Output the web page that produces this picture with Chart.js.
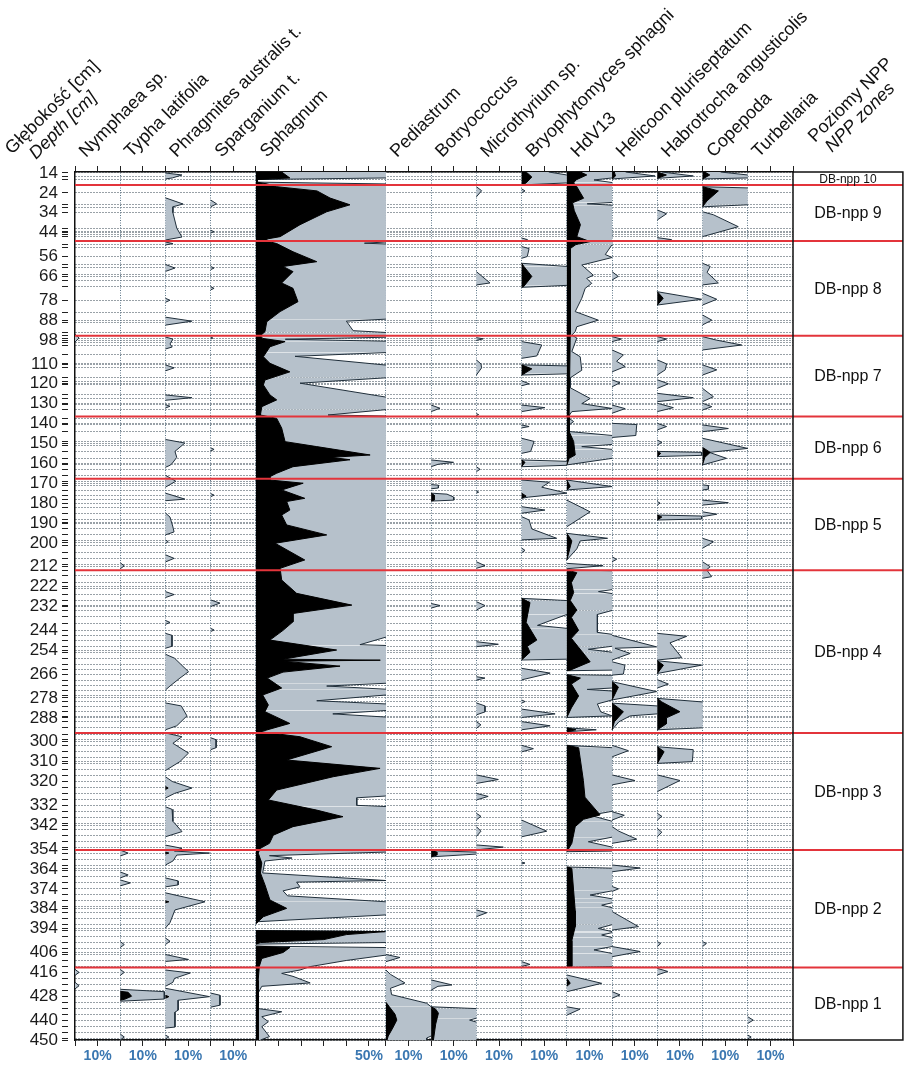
<!DOCTYPE html>
<html>
<head>
  <meta charset="utf-8">
  <title>NPP diagram</title>
  <script src="https://cdn.jsdelivr.net/npm/chart.js"></script>
  <style>
    html, body { margin: 0; padding: 0; background: #fff; }
    .wrap { position: relative; width: 904px; height: 1068px; }
  </style>
</head>
<body>
<div class="wrap"><canvas id="npp"></canvas></div>
<script>
  // --- data: [depth cm, value %] ---
  const TAXA = ['Nymphaea sp.', 'Typha latifolia', 'Phragmites australis t.', 'Sparganium t.', 'Sphagnum',
    'Pediastrum', 'Botryococcus', 'Microthyrium sp.', 'Bryophytomyces sphagni', 'HdV13',
    'Helicoon pluriseptatum', 'Habrotrocha angusticolis', 'Copepoda', 'Turbellaria'];
  const COL_WIDTHS = [20, 20, 20, 20, 57.5, 20, 20, 20, 20, 20, 20, 20, 20, 20];

  const DEPTH_LABELS = [14, 24, 34, 44, 56, 66, 78, 88, 98, 110, 120, 130, 140, 150, 160, 170, 180, 190, 200, 212,
    222, 232, 244, 254, 266, 278, 288, 300, 310, 320, 332, 342, 354, 364, 374, 384, 394, 406, 416, 428, 440, 450];
  const SAMPLE_DEPTHS = [16, 17.5, 30, 31.5, 34, 42, 43.5, 45, 46, 50, 51.5, 56, 60, 61.5, 65, 68, 71, 78, 84, 89,
    94, 95.5, 97, 99, 101, 105.5, 110.5, 112, 117, 119, 120.5, 125.5, 127.5, 130.5, 133, 137.5, 140.5, 144, 149,
    151, 154, 157.5, 160.5, 163, 166, 169, 171, 173.5, 176, 178, 180, 182, 185, 188, 190.5, 193, 196, 199, 201.5,
    205, 208, 211, 214, 216.5, 220, 223, 226, 229, 231.5, 234, 237, 240.5, 244, 246.5, 249, 252, 255, 258, 261,
    263.5, 266, 269, 271.5, 274, 277, 280, 282.5, 285, 287.5, 290, 293, 296.5, 299, 302, 305, 308, 311, 314, 317,
    320, 323, 326, 329, 332, 335, 338, 341, 344, 347, 350, 353, 356, 359, 362, 365, 368, 371, 374, 377, 380, 383,
    386, 389, 392, 395, 398, 401, 404, 407, 410, 413, 416, 419, 422, 425, 428, 431, 434, 437, 440, 443, 446, 449];

  const ZONE_BOUNDS = [20, 48.2, 95.8, 136.4, 167.8, 213.8, 295.6, 354.5, 413.5];
  const ZONE_NAMES = ['DB-npp 10', 'DB-npp 9', 'DB-npp 8', 'DB-npp 7', 'DB-npp 6', 'DB-npp 5',
    'DB-npp 4', 'DB-npp 3', 'DB-npp 2', 'DB-npp 1'];

  const nymphaeaGrey = [[95,0],[97,1.8],[99,0],[414.5,0],[416,1.8],[417.5,0],[421,0],[422.7,1.8],[424.3,0]];

  const typhaGrey = [[210,0],[211.6,1.8],[213,0],[354.5,0],[356,3.5],[357.5,0],[365.5,0],[367,3.5],[368.5,0],
    [369.5,0],[371,4.5],[372.5,0],[400.5,0],[402,1.8],[403.5,0],[414.5,0],[416,1.8],[417.5,0],[424.5,0],
    [425.7,19.5],[429.4,19.5],[430.5,0],[447,0],[448.5,1.8],[450,0]];
  const typhaBlack = [[425.5,0],[426,3.5],[428,5],[429.5,2],[430,0]];

  const phragmitesGrey = [[14,0],[15,7.3],[16.5,3],[17,0],[26.5,0],[29.6,7.8],[31,3.3],[34,3.3],[41.7,5],[46.2,7.3],
    [47.7,0],[48.7,0],[49.5,3.3],[50.2,0],[60,0],[61.8,4.2],[63.5,0],[77,0],[78,2],[79,0],[86.5,0],[88.5,11.7],
    [90.5,0],[96.5,0],[97.5,3.3],[100,2],[101.5,3],[102.5,0],[110.5,0],[112,3.8],[113.5,0],[125.6,0],[127,11.7],
    [128.3,0],[130.5,0],[131.3,2],[132.2,0],[148,0],[149.8,8.6],[154,4.2],[157,5],[160,3],[161,2],[162,0],
    [166,0],[169,4.6],[172,0],[175,0],[178,8.6],[178.8,0],[185,0],[187,2],[192,3.3],[194.5,3.8],[196,0],
    [198.5,0],[199.4,1.2],[200.3,0],[206,0],[207.8,3.8],[209.6,0],[224.5,0],[226,3.8],[227.5,0],[239,0],[240,2],
    [241,0],[245.5,0],[246.5,2.9],[252,2.9],[253,0],[256,0],[258,4],[264.8,10.2],[268,6.4],[272,2],[274,0],
    [280.5,0],[282,7],[287,9.5],[292,5],[294,0],[295.6,0],[297.5,7.3],[300.8,3.3],[305.7,10.2],[310,6.4],
    [314.5,0],[317.6,0],[320,3],[323.3,11.7],[326,4],[328.3,0],[332.7,0],[334,2.9],[340,3.3],[345.2,7.3],
    [347.8,0],[352,0],[353.6,7.3],[355,4],[356,19.5],[357,5],[360,3.3],[362,0],[368.5,0],[370,5.6],[372,5.6],
    [373,0],[376,0],[380.5,17.5],[384.6,4.2],[391,2],[393.7,0],[398.7,0],[400.3,2],[402,0],[407,0],[409.5,10.2],
    [410.5,0],[414.8,0],[416.3,11],[419,4],[421,3.3],[423,0],[424,0],[428.2,19.5],[430,5.6],[435,5.6],[436,4.2],
    [443.5,4.2],[444,0],[447.5,0],[448.5,1.5],[449.5,0]];
  const phragmitesBlack = [[322.5,0],[323.3,1.2],[324,0],[355.5,0],[356,1.5],[356.5,0],[380,0],[380.5,1.5],
    [381,0],[427.5,0],[428.2,1.5],[429,0]];

  const sparganiumGrey = [[27.6,0],[29.5,2.6],[31,0],[42.8,0],[43.5,1.5],[44.2,0],[61,0],[61.8,1.5],[62.6,0],
    [71.2,0],[72,1.5],[72.8,0],[96.5,0],[97,1],[97.5,0],[152.2,0],[153,1.5],[153.8,0],[175.2,0],[176,1.5],
    [176.8,0],[228.7,0],[230.3,4.1],[232,0],[243,0],[243.8,1.5],[244.6,0],[298,0],[299,2.4],[303,2.4],[304,0],
    [426.4,0],[427.5,4.1],[432.5,4.1],[433.5,0]];

  const sphagnumGrey = [[13.5,57.5],[16.5,57.5],[17.3,0.5],[18.6,0.5],[19.5,57.5],[48.7,57.5],[49.3,48],
    [49.7,57.5],[87.5,57.5],[88.5,40],[93.3,43],[94.2,57.5],[96.6,57.5],[97.6,13],[98.6,57.5],[104.3,57.5],
    [106.2,17.3],[110.6,57.5],[117,57.5],[119.7,19.5],[126.7,57.5],[133,57.5],[135.7,31.9],[136.2,57.5],
    [247.4,57.5],[251.2,46],[251.6,57.5],[270.6,57.5],[272,31.3],[273.6,57.5],[276.5,57.5],[279.4,26.9],
    [281,57.5],[284.3,57.5],[286,34],[287.6,57.5],[327.3,57.5],[328.2,44.6],[332,44.6],[332.6,57.5],
    [355.5,57.5],[356.5,28],[357.3,6],[358.5,16],[360,4],[366,3],[369.8,57.5],[370.6,18],[373,19.5],[375,12],
    [377.5,14],[380.5,57.5],[387.1,57.5],[390.5,1],[391.5,0],[395,0],[395.5,57.5],[401,57.5],[401.8,0],
    [402.8,0],[403.5,57.5],[407.3,57.5],[410,40],[413.1,24],[414.8,19.5],[416.5,11.4],[418,16.4],[421.3,24],
    [423,2.6],[426.4,1],[432.4,1],[433.3,0],[434.2,1],[435.8,11.4],[438.3,2.6],[440.8,5.5],[443.3,2.6],
    [448.3,6],[450,2]];
  const sphagnumBlack = [[13.5,11.4],[16.5,15],[17.3,0.5],[18.6,0.5],[19.5,5],[20.9,9.2],[23,27],[26.6,32.8],
    [30,41.6],[33.5,31.3],[40,19.5],[46,10.7],[47.2,4.8],[48.3,5],[49.5,9.2],[53.6,16.4],[58.6,26.9],[61,12],
    [63.6,16.4],[69.3,11.4],[72,16.4],[78.7,18.6],[83.7,10.7],[88.8,4.8],[93.8,4],[95.8,2],[97.2,3],[98.8,12.9],
    [101.4,6.2],[106.4,3.3],[109.7,6.2],[114,15],[118.1,4],[120.6,3.3],[125.6,6.2],[128.1,9.2],[131.5,2.6],
    [135.7,2],[137.4,9.2],[142.3,11.4],[149.1,12.9],[151.6,26.9],[155.8,50.5],[157,33.3],[158.2,41.6],
    [161.7,16.4],[165,9.2],[166.7,6.2],[168.4,6.2],[170,20.9],[173.4,11.4],[177.6,21.6],[179.2,13.6],[183.5,15],
    [186,11.4],[191,13.6],[196,31.3],[200.2,8.5],[208.6,21.6],[212.8,10.7],[218.7,11.4],[225.4,18],[231.3,42.4],
    [235.5,16.4],[239.7,16.4],[244,12],[248.9,6.2],[253.9,35.7],[258.5,12],[259,55],[259.5,12],[262,37.2],
    [265,12],[268,5],[273,11.4],[276.5,3],[281.5,5.5],[284.9,4],[290.8,15],[295,2],[297.5,19.5],[302.5,33.5],
    [309.2,13.6],[313.4,54.9],[317.6,34.2],[324.3,9.2],[329.3,5.5],[334.4,26.9],[337.7,38.5],[342.7,16.4],
    [347,7.7],[351.1,6],[353.6,2],[356,1],[361,2.6],[366,2],[372,4],[379.6,6.2],[383.8,13.6],[388,3.3],
    [390.5,1],[391.5,0],[395,0],[395.5,57],[397,40],[399.5,30],[401,2],[401.8,0],[402.8,0],[403.5,15],[406,12],
    [409,2.6],[413,1.5],[420,1],[430,1],[440,1],[450,1]];

  const pediastrumGrey = [[407,0],[408.5,6.2],[410.6,0],[414.8,0],[417,2],[421.3,8.4],[424,2],[427.2,2.5],
    [431.5,18],[433.3,20],[448,20],[449,18],[450,18]];
  const pediastrumBlack = [[431,0],[433.3,1.5],[437,4],[440,4.8],[444,3],[448,1],[450,0.5]];

  const botryococcusGrey = [[130.7,0],[132.3,3.9],[134,0],[158.3,0],[159.5,9.9],[160.5,3],[161.7,0],[170.7,0],
    [171,3.2],[172.4,3.2],[172.8,0],[175,0],[175.5,7],[177,10],[178.5,10],[179,0],[230.5,0],[231.5,3.9],
    [232.8,0],[354.8,0],[355.5,20],[356.5,20],[357.9,0],[419.8,0],[422.3,9.2],[423,3],[424.9,0],[433.3,0],
    [434.2,20],[439,20],[440,17],[441,20],[450,20]];
  const botryococcusBlack = [[175,0],[176,1.3],[178.5,1.3],[179,0],[354.8,0],[355.5,2.5],[357,2.5],[357.9,0],
    [433.3,0],[434.5,2],[436.5,3.2],[442,2],[450,1]];

  const microthyriumGrey = [[20.9,0],[22.9,2.3],[26,0],[63.6,0],[69.3,6],[70.3,0],[96.8,0],[97.4,3],[98.2,0],
    [108,0],[110,2],[112,2.3],[115.6,0],[135,0],[135.5,1],[136,0],[161.7,0],[163,1.6],[164.2,0],[174,0],
    [174.5,1],[175,0],[209.5,0],[211.5,3.8],[212.8,0],[229.6,0],[231.5,3.8],[233.8,0],[249.7,0],[251,9.7],
    [252.2,0],[267.3,0],[268,3.8],[269,0],[280.5,0],[282,3.8],[285,3.8],[286.5,0],[289.9,0],[291.5,2],
    [293.3,0],[316.7,0],[319,9.7],[321,0],[326,0],[327.5,5.2],[329.3,0],[336,0],[337.5,2],[339.3,0],[342.7,0],
    [345,2],[347.7,0],[351.9,0],[353,11.9],[354.4,0],[384.6,0],[386,4.6],[388,0]];

  const bryophytomycesGrey = [[13.5,12],[15,20],[19,20],[20,0],[22,0],[23,1.5],[24,0],[46.7,0],[47.5,2.6],
    [48.5,0],[51,0],[52,3.3],[56,2.5],[56.9,0],[59.4,0],[61,20],[70.5,20],[71.5,0],[98.8,0],[100.5,8.9],
    [106,6.7],[107.2,0],[110.5,0],[111,20],[115,20],[115.6,0],[118.5,0],[120,3.3],[121,0],[130.7,0],[132,10.3],
    [134,0],[140.7,0],[141.5,3.3],[142.2,0],[147.4,0],[149,5.5],[154,4],[155,0],[158.3,0],[159,20],[161,20],
    [161.7,0],[168.4,0],[169.5,12.3],[172,8.9],[175,20],[177,3],[177.6,0],[181.8,0],[183.5,10.3],[185.1,0],
    [186.8,0],[188.5,3.3],[193,4.5],[197.7,15.5],[198.5,0],[202.6,0],[203.8,1.5],[205,0],[227.9,0],[229,20],
    [236,20],[241.5,7],[243,20],[258.5,20],[258.9,0],[263.1,0],[265.5,12.6],[268.9,0],[279,0],[279.8,1.5],
    [280.6,0],[283.6,0],[286,14.8],[287.8,0],[289.9,0],[292,12.6],[294,0],[301.8,0],[303.5,5.2],[305.1,0],
    [339.4,0],[345,11.1],[347.8,0],[360.5,0],[361,1.5],[361.5,0],[410.6,0],[412,3.7],[413,0]];
  const bryophytomycesBlack = [[13.5,2],[16,4.5],[19,2],[20,0],[59.4,0],[61,1],[66,4.5],[71,1],[71.5,0],
    [110.5,0],[112.5,4.5],[115,1],[115.6,0],[158.3,0],[159.5,1.5],[161.7,0],[175,0],[176.5,2],[177.6,0],
    [227.9,0],[230,3.7],[240,2],[248.9,6.7],[252,2.5],[255,3.7],[258.9,0]];

  const hdv13Grey = [[13.5,20],[16.5,20],[17.5,12],[18.8,20],[28.8,20],[29.5,9],[30.2,20],[50,20],[55,17],
    [56.5,20],[60.3,6.6],[65.4,11.7],[67,8.8],[69.5,11],[72,8.1],[77,6.6],[83.7,3.7],[88,13.9],[91.3,4.4],
    [93.8,3.7],[95.5,2.2],[97,4.4],[103.8,2.2],[106.4,5.9],[113.2,6.6],[117,1.5],[122,1.5],[127.4,10.3],
    [130,6.6],[132.4,20],[134,2.2],[136,1],[137.4,1],[139,3],[140.7,1],[144,1],[146,20],[150.5,20],[151.6,6.6],
    [153,20],[157.5,20],[160.8,0],[168.4,0],[171.7,20],[173.4,0],[178.5,0],[184.4,10.3],[191.9,0],[195.2,0],
    [197.7,18],[199,5.9],[203,4.4],[208.6,0],[210.3,0],[211.5,16],[213,0],[213.6,0],[214,20],[223.5,20],
    [224.5,14],[225.5,20],[234,20],[236,13.5],[245,13.5],[246,20],[252,20],[253.5,9.5],[255,20],[264,20],
    [264.3,0],[266.3,0],[266.6,20],[273,20],[273.7,9],[274.5,20],[279,20],[281,13.5],[285,15],[287,20],
    [287.8,0],[293,0],[294,13],[295,0],[301.8,0],[303,20],[335,20],[337,10.3],[340,20],[348,20],[350.3,9.5],
    [353,20],[355,20],[355.3,0],[363,0],[363.6,20],[375,20],[377.1,10.3],[379,20],[381,20],[382.2,15.4],
    [383.5,20],[392,20],[393.9,13.9],[395.5,20],[396,20],[397.2,15.4],[398.5,20],[403,20],[404.7,12],
    [406.5,20],[413.1,20],[413.5,0],[417.3,0],[421.5,15.4],[425.7,0],[433.3,0],[434.5,5.8],[437.5,0]];
  const hdv13Black = [[13.5,6],[15,8.8],[17.5,4],[19,3],[20.9,4.4],[26.7,7.4],[29,2.5],[33,3.3],[40,6],
    [46,4.4],[48.5,10.3],[50,4],[52,1.5],[95,1.5],[136,1],[144,1],[149,3],[155.8,3.7],[157.5,1],[160.8,0],
    [168.4,0],[171.7,1.5],[173.4,0],[195.2,0],[199,2.2],[208.6,0],[213.6,0],[215,4.4],[220,2],[225,3],
    [229,1.5],[233.8,4.4],[237.5,2],[244,5.2],[248,2],[259.8,10.3],[264,1.5],[264.3,0],[266.3,0],[268,6],
    [271,2],[277,5.2],[283,2],[287.8,0],[293,0],[294,4],[295,0],[301.8,0],[303,5.2],[309.2,6],[319.5,7.3],
    [327.9,8],[336.8,14.7],[339,7.4],[342.7,3.7],[351.1,2.2],[355.3,0],[363,0],[363.6,2.2],[385,3.7],
    [393,3.7],[400,2.2],[413.1,2.2],[413.5,0],[419,0],[421.5,1.5],[423,0]];

  const helicoonGrey = [[13.5,6],[15.5,19],[17,0],[63.6,0],[66,2.7],[67.8,0],[96.3,0],[97.5,4.1],[98.8,0],
    [103,0],[105.5,5],[108.7,2],[111.3,5.8],[114,0],[118,0],[119.5,3.5],[121.5,0],[130.7,0],[132.5,5.8],
    [134.8,0],[139.9,0],[140.5,10.9],[146,10.5],[147,0],[207,0],[208.3,2],[209.5,0],[246.5,0],[252.3,19.7],
    [253,1.3],[255.6,8],[258.9,0],[259.8,0],[261.5,5.7],[266,5],[266.5,0],[269.8,0],[274.8,19.7],[279,0],
    [280.6,0],[282,20],[286,20],[287,8],[290,3],[294,0],[301.8,0],[304.5,7.2],[307.6,0],[316.7,0],[319.5,10.1],
    [321.7,0],[335.2,0],[337,5.4],[339.4,0],[342.7,0],[345,3],[349,10.9],[351.1,0],[362,0],[363.5,12.4],
    [365.4,0],[372.8,0],[374,2.8],[375.3,0],[385.4,0],[393,11.7],[394.7,0],[403,0],[405.5,12.4],[408.1,0],
    [425.7,0],[427.3,3.5],[429,0]];
  const helicoonBlack = [[13.5,1],[15.5,1.5],[17,0],[269.8,0],[272.5,2.8],[279,0],[280.6,0],[284.9,5],
    [290,1],[294,0]];

  const habrotrochaGrey = [[13.5,2],[15.5,15.9],[16.7,0],[32.6,0],[34.5,4.1],[37.6,0],[46.5,0],[47.5,6.3],
    [48.5,0],[73.7,0],[77.5,19.6],[80.4,0],[96.3,0],[97.5,4.1],[98.8,0],[108,0],[110,4.1],[113,3.5],[115.6,0],
    [118,0],[120,4.9],[122.3,0],[124.8,0],[127,15.9],[129,0],[129.8,0],[132,7.1],[134,0],[139.9,0],[141.5,4.1],
    [143.2,0],[148.3,0],[149.5,2],[150.8,0],[154,0],[154.5,19.6],[156,19.6],[156.6,0],[179.2,0],[180,1.2],
    [181,0],[186,0],[186.5,19.6],[188,19.6],[188.5,0],[245.5,0],[247,13],[250.3,5.6],[257.7,10.8],[258.9,0],
    [259.3,0],[261.5,19.6],[265.7,0],[268.8,0],[271,4.9],[273,0],[278.2,0],[280,20],[293,20],[294,0],
    [302.5,0],[304,15.9],[310,15.5],[310.9,0],[316.7,0],[319.5,10],[325.1,0],[336,0],[337.5,2],[339.4,0],
    [343.6,0],[345.5,2],[347.8,0],[400.5,0],[401.5,1.5],[403,0],[414,0],[415.5,4.6],[417.3,0]];
  const habrotrochaBlack = [[13.5,0],[15,4],[16.7,0],[73.7,0],[77,2.6],[80.4,0],[154,0],[155,1.5],[156.6,0],
    [186,0],[187,2],[188.5,0],[259.3,0],[261.5,2.7],[265.7,0],[278.2,0],[280,2],[284.9,10],[288,4],[291,4],
    [294,0],[302.5,0],[305,3],[310.9,0]];

  const copepodaGrey = [[13.5,8],[15,20],[16.5,20],[17,0],[20.9,0],[21.5,20],[30,20],[31,0],[33.5,0],[35,4.8],
    [41,15.8],[46,0],[59.4,0],[61,3.4],[64,2],[69.3,7],[70.3,0],[74.5,0],[77.5,6.3],[80.4,0],[85.4,0],[88,4.1],
    [90.4,0],[96.3,0],[98,6],[100.5,17.3],[103,0],[110.5,0],[113,6.3],[115.6,0],[122.3,0],[126.5,4.8],[129,0],
    [129.8,0],[131.5,4.1],[133.2,0],[140.7,0],[142.5,11.4],[144.1,0],[147.4,0],[152.5,20],[154.5,3],
    [157.5,10.6],[160.8,0],[170.8,0],[171.2,2.6],[173,2.6],[173.4,0],[178.5,0],[179.8,11.4],[181,0],[184.4,0],
    [185.6,6.3],[186.8,0],[197.7,0],[199.5,4.8],[202.7,0],[209.5,0],[212,3.4],[213.5,1.8],[217,4],[217.8,0],
    [400.5,0],[401.5,1.7],[403,0]];
  const copepodaBlack = [[13.5,1],[15,3.2],[17,0],[20.9,0],[23,7],[28,2],[31,0],[152,0],[154.5,3.4],[157,1],
    [160.8,0]];

  const turbellariaGrey = [[438.3,0],[440,2.4],[441.7,0],[447.5,0],[448.5,1.5],[449.5,0]];

  const GREY_VALUES = [nymphaeaGrey, typhaGrey, phragmitesGrey, sparganiumGrey, sphagnumGrey, pediastrumGrey,
    botryococcusGrey, microthyriumGrey, bryophytomycesGrey, hdv13Grey, helicoonGrey, habrotrochaGrey,
    copepodaGrey, turbellariaGrey];
  const BLACK_VALUES = [null, typhaBlack, phragmitesBlack, null, sphagnumBlack, pediastrumBlack,
    botryococcusBlack, null, bryophytomycesBlack, hdv13Black, helicoonBlack, habrotrochaBlack,
    copepodaBlack, null];

  // --- layout of the columns on one shared x scale ---
  const starts = [];
  let acc = 0;
  COL_WIDTHS.forEach(w => { starts.push(acc); acc += w; });
  const TOTAL = acc;
  const ZONE_SPAN = 48.6;
  const SPH = 4;

  const GREY_FILL = '#b6c1cb';
  const OUTLINE = '#1f2e3a';
  const CLEAR = 'rgba(0,0,0,0)';

  function profile(pairs, i, black) {
    const base = starts[i];
    const full = COL_WIDTHS[i];
    return {
      data: pairs.map(([d, v]) => ({ x: base + v, y: d })),
      fill: { value: base },
      backgroundColor: black ? '#000' : GREY_FILL,
      borderColor: black ? '#000' : OUTLINE,
      borderWidth: 1,
      pointRadius: 0,
      tension: 0,
      order: black ? 1 : 2,
      segment: {
        borderColor: c => {
          const a = c.p0.parsed.x - base, b = c.p1.parsed.x - base;
          if ((a < 0.01 && b < 0.01) || (a > full - 0.01 && b > full - 0.01)) return CLEAR;
          return undefined;
        }
      }
    };
  }

  const datasets = [];
  ZONE_BOUNDS.forEach(b => {
    datasets.push({
      data: [{ x: 0, y: b }, { x: TOTAL + ZONE_SPAN, y: b }],
      borderColor: '#e3343b', borderWidth: 2, pointRadius: 0, fill: false, clip: false, order: 0
    });
  });
  BLACK_VALUES.forEach((p, i) => { if (p) datasets.push(profile(p, i, true)); });
  GREY_VALUES.forEach((p, i) => datasets.push(profile(p, i, false)));

  const xTicks = [];
  COL_WIDTHS.forEach((w, i) => {
    for (let t = 0; t < w - 0.01; t += 10) xTicks.push(starts[i] + t);
  });
  xTicks.push(TOTAL);
  const colLines = starts.slice(1);
  const allDepths = Array.from(new Set(SAMPLE_DEPTHS.concat(DEPTH_LABELS))).sort((a, b) => a - b);

  function near(a, b) { return Math.abs(a - b) < 0.01; }

  const FONT = '"Liberation Sans", Arial, sans-serif';

  const decor = {
    id: 'decor',
    afterDraw(chart) {
      const { ctx, chartArea: area, scales } = chart;
      const xs = scales.x, ys = scales.y;
      const zoneRight = xs.getPixelForValue(TOTAL + ZONE_SPAN);
      ctx.save();
      ctx.strokeStyle = '#111';
      ctx.lineWidth = 1.5;
      ctx.strokeRect(area.right, area.top, zoneRight - area.right, area.bottom - area.top);

      // zone names
      ctx.fillStyle = '#111';
      ctx.textAlign = 'center';
      ctx.textBaseline = 'middle';
      const edges = [ys.min].concat(ZONE_BOUNDS, [ys.max]);
      ZONE_NAMES.forEach((name, i) => {
        const mid = (edges[i] + edges[i + 1]) / 2;
        ctx.font = (i === 0 ? '12px ' : '16px ') + FONT;
        ctx.fillText(name, (area.right + zoneRight) / 2, ys.getPixelForValue(mid) + 1);
      });

      // rotated column headings
      const head = (text, x, y, italic) => {
        ctx.save();
        ctx.translate(x, y);
        ctx.rotate(-Math.PI / 4);
        ctx.font = (italic ? 'italic ' : '') + '18px ' + FONT;
        ctx.textAlign = 'left';
        ctx.textBaseline = 'alphabetic';
        ctx.fillText(text, 0, 0);
        ctx.restore();
      };
      TAXA.forEach((name, i) => head(name, xs.getPixelForValue(starts[i]) + 11, 158));
      head('Głębokość [cm]', 12, 155);
      head('Depth [cm]', 36, 160, true);
      head('Poziomy NPP', area.right + 22, 143);
      head('NPP zones', area.right + 39, 153, true);
      ctx.restore();
    }
  };

  new Chart(document.getElementById('npp'), {
    type: 'line',
    data: { datasets },
    options: {
      indexAxis: 'y',
      responsive: true,
      maintainAspectRatio: false,
      animation: false,
      layout: { padding: { left: 0, right: 111, top: 0, bottom: 0 } },
      plugins: { legend: { display: false }, tooltip: { enabled: false } },
      scales: {
        y: {
          type: 'linear',
          reverse: true,
          min: 13.5,
          max: 450,
          afterFit: s => { s.width = 75; },
          afterBuildTicks: s => { s.ticks = allDepths.map(v => ({ value: v })); },
          ticks: {
            autoSkip: false,
            padding: 4,
            color: '#1b1b1b',
            font: { family: FONT, size: 17 },
            callback: v => DEPTH_LABELS.includes(v) ? String(v) : ''
          },
          grid: {
            color: '#33434f',
            lineWidth: 1,
            tickLength: 13,
            tickColor: '#222',
            tickBorderDash: [6, 40]
          },
          border: { color: '#111', width: 1.5, dash: [1, 2] }
        },
        x: {
          type: 'linear',
          position: 'bottom',
          min: 0,
          max: TOTAL,
          afterFit: s => { s.height = 28; },
          afterBuildTicks: s => { s.ticks = xTicks.map(v => ({ value: v })); },
          ticks: {
            autoSkip: false,
            maxRotation: 0,
            padding: 2,
            color: '#3a77b1',
            font: { family: FONT, size: 14, weight: 'bold' },
            callback: v => {
              if (near(v, starts[SPH] + 50)) return '50%';
              for (let i = 0; i < starts.length; i++) {
                if (i !== SPH && near(v, starts[i] + 10)) return '10%';
              }
              return '';
            }
          },
          grid: { drawOnChartArea: false, tickLength: 6, tickColor: '#222' },
          border: { color: '#111', width: 1.5 }
        },
        xTop: {
          type: 'linear',
          axis: 'x',
          position: 'top',
          min: 0,
          max: TOTAL,
          afterFit: s => { s.height = 172; },
          afterBuildTicks: s => { s.ticks = xTicks.map(v => ({ value: v })); },
          ticks: { display: false },
          grid: {
            color: c => colLines.some(v => near(v, c.tick.value)) && !near(c.tick.value, TOTAL) ? '#5d7789' : CLEAR,
            tickLength: 6,
            tickColor: '#222'
          },
          border: { color: '#111', width: 1.5, dash: [1, 1.5] }
        }
      }
    },
    plugins: [decor]
  });
</script>
</body>
</html>
